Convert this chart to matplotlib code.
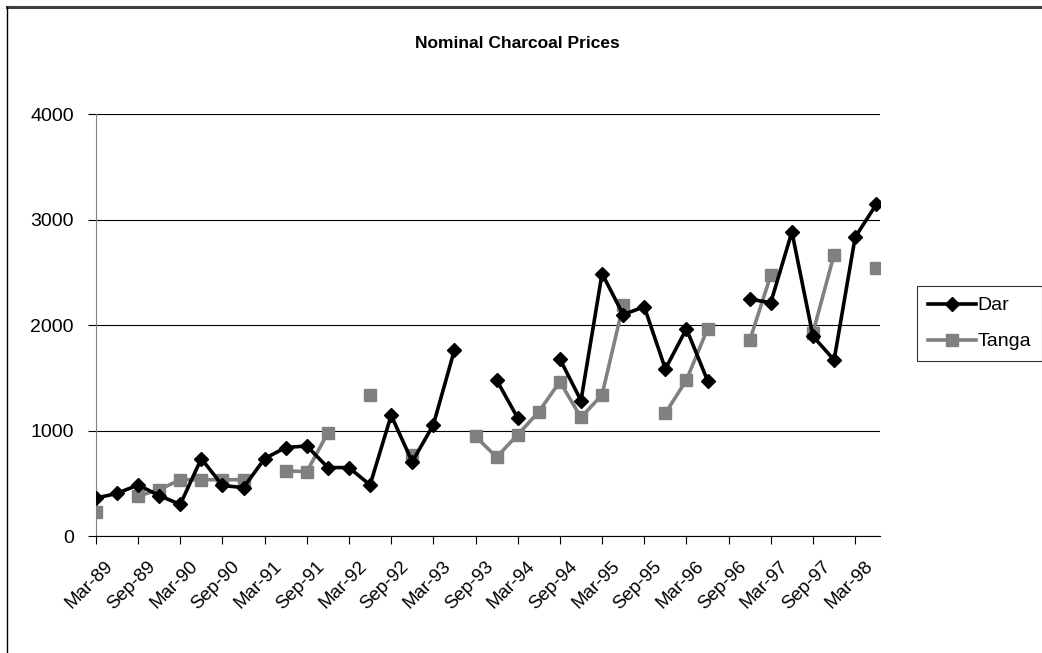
# Nominal charcoal prices, Dar vs Tanga, quarterly 1989-1998

import matplotlib
matplotlib.use("Agg")
import matplotlib.pyplot as plt
import matplotlib.transforms as mtransforms
from matplotlib.lines import Line2D
import numpy as np

nan = np.nan

# quarterly categories
quarters = [
    "Mar-89", "Jun-89", "Sep-89", "Dec-89", "Mar-90", "Jun-90", "Sep-90", "Dec-90",
    "Mar-91", "Jun-91", "Sep-91", "Dec-91", "Mar-92", "Jun-92", "Sep-92", "Dec-92",
    "Mar-93", "Jun-93", "Sep-93", "Dec-93", "Mar-94", "Jun-94", "Sep-94", "Dec-94",
    "Mar-95", "Jun-95", "Sep-95", "Dec-95", "Mar-96", "Jun-96", "Sep-96", "Dec-96",
    "Mar-97", "Jun-97", "Sep-97", "Dec-97", "Mar-98", "Jun-98",
]

# series values (gaps are missing quarters)
dar = [
    360, 405, 485, 385, 300, 735, 480, 460,
    735, 840, 855, 650, 650, 485, 1145, 705,
    1055, 1765, nan, 1480, 1120, nan, 1680, 1285,
    2490, 2100, 2175, 1585, 1965, 1475, nan, 2245,
    2215, 2885, 1895, 1670, 2835, 3145,
]
tanga = [
    230, nan, 380, 440, 535, 535, 535, 535,
    nan, 620, 610, 980, nan, 1340, nan, 770,
    nan, nan, 945, 750, 960, 1180, 1465, 1125,
    1340, 2195, nan, 1165, 1480, 1965, nan, 1855,
    2475, nan, 1930, 2670, nan, 2545,
]

y_ticks = [0, 1000, 2000, 3000, 4000]


def main():
    """Draws the chart and saves out.png."""
    plt.rcParams["font.family"] = ["Liberation Sans", "DejaVu Sans"]

    fig = plt.figure(figsize=(10.42, 6.53), dpi=100)
    ax = fig.add_axes([0.092, 0.179, 0.753, 0.646])

    x = np.arange(len(quarters))
    ax.plot(x, dar, color="black", lw=2.6, marker="D", ms=7.5, label="Dar", zorder=3)
    ax.plot(x, tanga, color="#808080", lw=2.6, marker="s", ms=9, label="Tanga", zorder=2)

    ax.set_xlim(0, len(quarters) - 0.8)
    ax.set_ylim(0, 4000)
    ax.set_yticks(y_ticks)
    ax.set_yticklabels([str(v) for v in y_ticks], fontsize=14)
    ax.yaxis.grid(True, color="black", lw=0.8)
    ax.set_axisbelow(True)

    # category labels every half year, rotated like the spreadsheet original
    ax.set_xticks(x[::2])
    ax.set_xticklabels([])
    shift = mtransforms.ScaledTranslation(9 / 100, -22 / 100, fig.dpi_scale_trans)
    label_trans = ax.get_xaxis_transform() + shift
    for pos, name in zip(x[::2], quarters[::2]):
        ax.text(pos, 0, name, transform=label_trans, rotation=45, ha="right", va="top",
                rotation_mode="anchor", fontsize=13.5, clip_on=False)

    for side in ("top", "right"):
        ax.spines[side].set_visible(False)
    ax.spines["left"].set_color("#808080")
    ax.spines["bottom"].set_color("black")
    ax.tick_params(axis="both", direction="out", length=6, width=0.8)
    ax.tick_params(axis="y", pad=10)

    fig.text(0.497, 0.934, "Nominal Charcoal Prices", ha="center", va="center",
             fontsize=12.5, fontweight="bold")

    leg = fig.legend(loc="upper left", bbox_to_anchor=(917 / 1042, 1 - 286 / 653),
                     frameon=True, fancybox=False, fontsize=14, handlelength=2.5,
                     handletextpad=0.05, borderpad=0.55, labelspacing=0.95, borderaxespad=0)
    leg.get_frame().set_edgecolor("black")
    leg.get_frame().set_linewidth(0.8)

    # outer chart border, cropped at right and bottom
    fig.add_artist(Line2D([7 / 1042, 1.0], [1 - 7 / 653, 1 - 7 / 653],
                          transform=fig.transFigure, color="#404040", lw=2.2))
    fig.add_artist(Line2D([7 / 1042, 7 / 1042], [0.0, 1 - 7 / 653],
                          transform=fig.transFigure, color="black", lw=1.0))

    fig.savefig("out.png", dpi=100)
    plt.close(fig)


if __name__ == "__main__":
    main()
